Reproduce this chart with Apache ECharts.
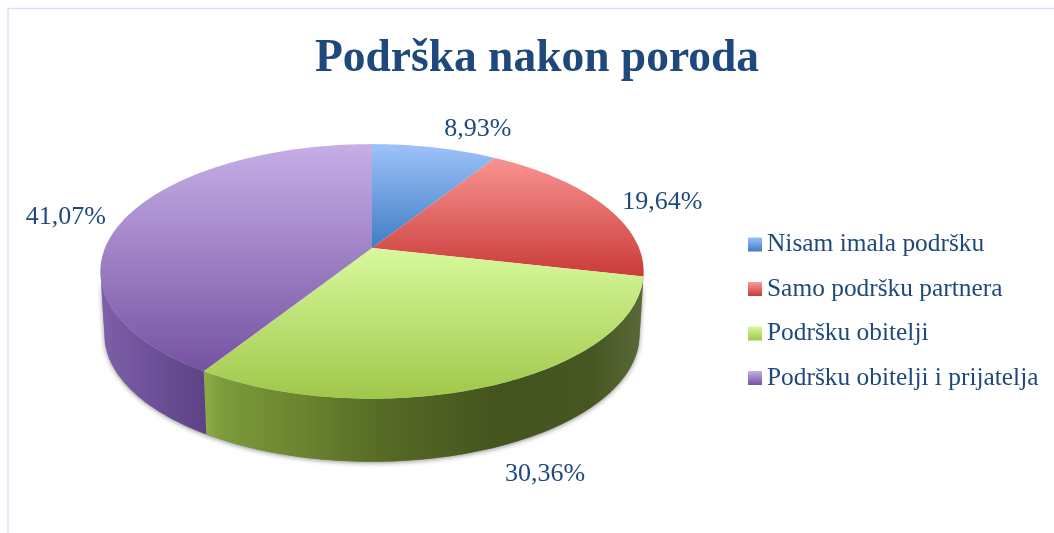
<!DOCTYPE html>
<html><head><meta charset="utf-8">
<style>html,body{margin:0;padding:0;background:#fff}#c{width:1054px;height:533px}</style>
<script src="https://cdn.jsdelivr.net/npm/echarts@6/dist/echarts.min.js"></script>
</head><body><div id="c"></div>
<script>
const chartTitle = 'Podrška nakon poroda';
const categories = ['Nisam imala podršku', 'Samo podršku partnera', 'Podršku obitelji', 'Podršku obitelji i prijatelja'];
const values = [8.93, 19.64, 30.36, 41.07];

// drawing configuration (perspective model of the tilted disc)
const FONT = '"Liberation Serif", serif', INK = '#1f497d';
const C = {x: 372, y: 248, R: 267, S: 123, k: 0.184, depth: 63, bottomScale: 0.985};
const topGrad = [
  [148, 248, '#9ac0f7', '#3f7dc6'],
  [150, 278, '#fb9a98', '#c93a38'],
  [248, 400, '#d8f99c', '#9fc749'],
  [144, 372, '#c6aee6', '#7552a2']
];
const wallStops = [
  [[372, '#3f7dc6'], [500, '#3f7dc6']],
  [[630, '#7d2a28'], [650, '#7d2a28']],
  [[205, '#8cac45'], [225, '#7b9a3a'], [300, '#6b8530'], [380, '#566b25'], [500, '#44541f'], [590, '#465622'], [645, '#586b38']],
  [[100, '#7e60a9'], [150, '#6e5199'], [207, '#5c4285']]
];
const labelOffset = [[43, -18], [60, -2], [50, 89], [-62, 2]];

function project(pct, scale, dy) {
  const t = pct / 100 * 2 * Math.PI, u = Math.sin(t), v = Math.cos(t), w = 1 + C.k * v;
  return [C.x + C.R * scale * u / w, C.y + (dy || 0) - C.S * v / w];
}
function arc(a, b, scale, dy) {
  const pts = [], n = Math.max(2, Math.ceil((b - a) * 3));
  for (let i = 0; i <= n; i++) pts.push(project(a + (b - a) * i / n, scale, dy));
  return pts;
}
function wallPoints(a, b) {
  return arc(a, b, 1, 0).concat(arc(a, b, C.bottomScale, C.depth).reverse());
}
// silhouette limits of the side wall, as percent of the circle
const visA = 100.6 / 3.6, visB = 259.4 / 3.6;

function renderSlice(params, api) {
  const i = params.seriesIndex - 1, start = api.value(0), size = api.value(1), end = start + size;
  const g = topGrad[i], children = [];
  const a = Math.max(start, visA), b = Math.min(end, visB);
  if (b > a) {
    const xs = wallStops[i], x0 = xs[0][0], x1 = xs[xs.length - 1][0];
    children.push({type: 'polygon', shape: {points: wallPoints(a, b)}, style: {
      fill: {type: 'linear', x: x0, y: 0, x2: x1, y2: 0, global: true,
        colorStops: xs.map(s => ({offset: (s[0] - x0) / (x1 - x0), color: s[1]}))}
    }});
  }
  children.push({type: 'polygon', shape: {points: [[C.x, C.y]].concat(arc(start, end, 1, 0))}, style: {
    fill: {type: 'linear', x: 0, y: g[0], x2: 0, y2: g[1], global: true,
      colorStops: [{offset: 0, color: g[2]}, {offset: 1, color: g[3]}]}
  }});
  const m = project(start + size / 2, 1, 0);
  children.push({type: 'text', style: {
    x: m[0] + labelOffset[i][0], y: m[1] + labelOffset[i][1],
    text: size.toFixed(2).replace('.', ',') + '%',
    font: '26px ' + FONT, fill: INK, align: 'center', verticalAlign: 'middle'
  }});
  return {type: 'group', children};
}

let cum = 0;
const sliceSeries = categories.map((name, i) => {
  const s = {
    type: 'custom', name, coordinateSystem: 'none', renderItem: renderSlice, silent: true,
    itemStyle: {color: {type: 'linear', x: 0, y: 0, x2: 0, y2: 1,
      colorStops: [{offset: 0, color: topGrad[i][2]}, {offset: 1, color: topGrad[i][3]}]}},
    data: [[cum, values[i]]]
  };
  cum += values[i];
  return s;
});
const shadowSeries = {
  type: 'custom', name: 'shadow', coordinateSystem: 'none', silent: true, data: [[0]],
  renderItem: () => ({type: 'polygon', shape: {points: wallPoints(visA + 1, visB - 1)}, style: {
    fill: '#8a8a8a', shadowBlur: 5, shadowColor: 'rgba(0,0,0,0.45)', shadowOffsetY: 1
  }})
};

const chart = echarts.init(document.getElementById('c'), null, {renderer: 'canvas'});
chart.setOption({
  animation: false,
  backgroundColor: '#fff',
  title: {text: chartTitle, left: 532, top: 31, textAlign: 'center',
    textStyle: {fontFamily: FONT, fontSize: 45.5, fontWeight: 'bold', color: INK}},
  legend: {
    data: categories, orient: 'vertical', left: 748, top: 232, padding: 0, itemWidth: 14, itemHeight: 14,
    itemGap: 19.5, icon: 'rect', selectedMode: false,
    textStyle: {fontFamily: FONT, fontSize: 25.4, lineHeight: 24, color: INK}
  },
  graphic: [{type: 'polyline', silent: true, shape: {points: [[8, 533], [8, 8.5], [1054, 8.5]]},
    style: {stroke: '#d5e4f4', lineWidth: 1.5, fill: null}}],
  series: [shadowSeries].concat(sliceSeries)
});
</script></body></html>
